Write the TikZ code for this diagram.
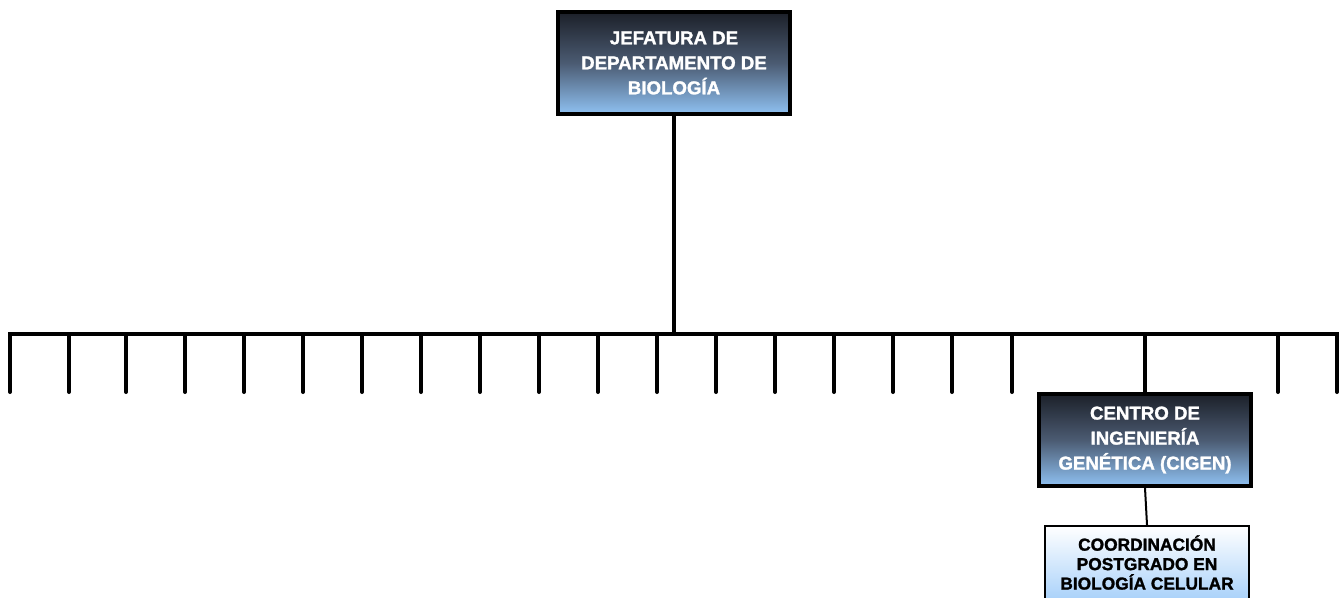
\documentclass[tikz,border=0pt]{standalone}
\usepackage{fontspec}
\setmainfont{Liberation Sans}[BoldFeatures={FakeBold=1.5}]
\usetikzlibrary{positioning}

\newcommand*{\busy}{334}
\newcommand*{\ticky}{392}

\definecolor{headtop}{HTML}{1C2029}
\definecolor{headmid}{HTML}{4B5B72}
\definecolor{headbot}{HTML}{8FC1F2}
\definecolor{subbot}{HTML}{AAD2FA}

\begin{document}
\begin{tikzpicture}
[
	x=0.75pt,
	y=-0.75pt,
	headbox/.style={draw=black,line width=3pt,top color=headtop,bottom color=headbot,middle color=headmid,
		text=white,font=\bfseries\fontsize{14}{18.75}\selectfont,align=center,inner sep=0pt},
	subbox/.style={draw=black,line width=1.5pt,top color=white,bottom color=subbot,
		text=black,font=\bfseries\fontsize{13}{14.6}\selectfont,align=center,inner sep=0pt},
	bus/.style={line width=3pt,line cap=round},
	link/.style={line width=1.5pt}
]
	\clip (0,0) rectangle (1344,597);

	% boxes
	\node[headbox,minimum width=174pt,minimum height=76.5pt] (jefatura) at (674,63)
		{JEFATURA DE\\DEPARTAMENTO DE\\BIOLOGÍA};
	\node[headbox,minimum width=159pt,minimum height=69pt] (cigen) at (1145,440)
		{CENTRO DE\\INGENIERÍA\\GENÉTICA (CIGEN)};
	\node[subbox,minimum width=153pt,minimum height=55pt] (postgrado) at (1147,562.5)
		{COORDINACIÓN\\POSTGRADO EN\\BIOLOGÍA CELULAR};

	% bus
	\coordinate (busL) at (10,\busy);
	\coordinate (busR) at (1337,\busy);
	\coordinate (busM) at (674,\busy);
	\coordinate (busC) at (1145,\busy);
	\draw[bus,line cap=butt] (jefatura.south) -- (busM);
	\draw[bus,line join=miter] (10,\ticky) -- (busL) -- (busR) -- (1337,\ticky);
	\foreach \tx in {69,126,185,244,303,362,421,480,539,598,657,716,775,834,893,952,1012,1278}
		\draw[bus] (\tx,\busy) -- (\tx,\ticky);
	\draw[bus,line cap=butt] (busC) -- (cigen.north);

	% sub unit
	\draw[link] (cigen.south) -- (postgrado.north);

\end{tikzpicture}
\end{document}
